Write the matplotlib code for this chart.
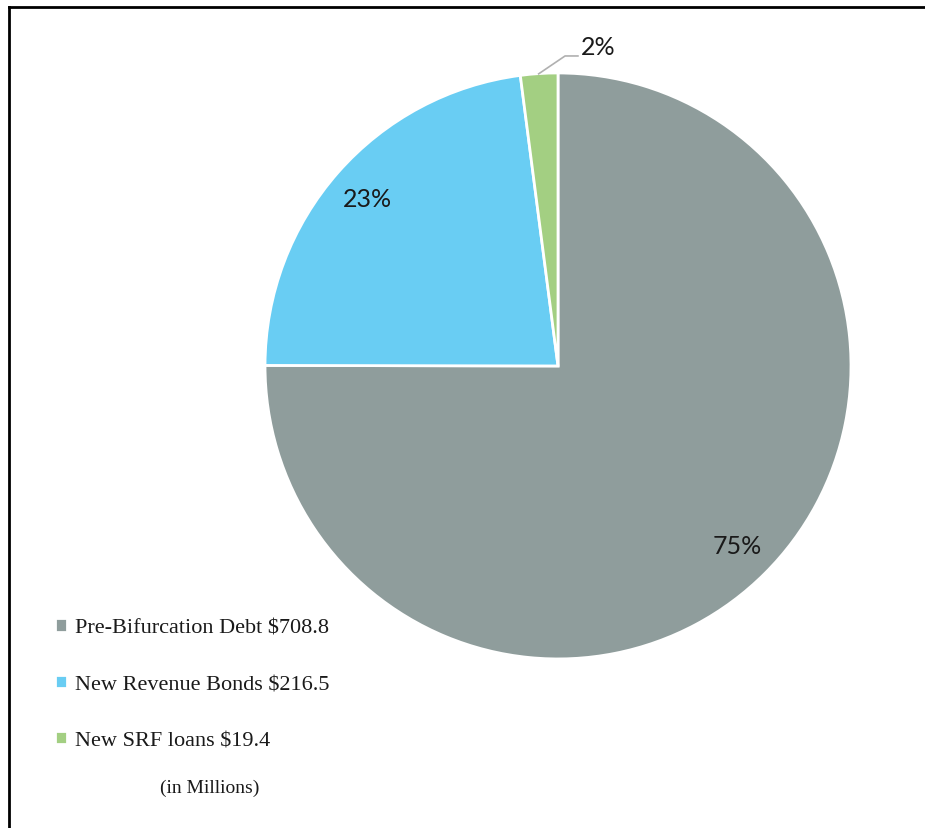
import matplotlib
matplotlib.use('Agg')
import matplotlib.pyplot as plt
from matplotlib.lines import Line2D

labels = ['Pre-Bifurcation Debt $708.8', 'New Revenue Bonds $216.5', 'New SRF loans $19.4']
values = [708.8, 216.5, 19.4]
colors = ['#8F9D9C', '#69CDF3', '#A3CF82']

fig = plt.figure(figsize=(9.25, 8.29), dpi=100)
ax = fig.add_axes([0.2865, 0.2039, 0.6335, 0.7069])

wedges, texts, autotexts = ax.pie(values, colors=colors, startangle=90, counterclock=False,
                                  autopct='%1.0f%%', pctdistance=0.865,
                                  wedgeprops=dict(edgecolor='white', linewidth=2),
                                  textprops=dict(fontsize=18, family='Lato', color='#1a1a1a'))
ax.set_xlim(-1, 1)
ax.set_ylim(-1, 1)
ax.set_aspect('equal')

# small slice label goes outside with a leader line
autotexts[2].set_position((0.137, 1.092))
ax.plot([-0.066, 0.024, 0.068], [0.997, 1.058, 1.058], color='#b0b0b0', lw=1.2, clip_on=False)

leg = fig.legend(wedges, labels, loc='upper left', bbox_to_anchor=(0.038, 0.277),
                 frameon=False, handlelength=0.55, handleheight=0.55, handletextpad=0.35,
                 labelspacing=1.65, prop=dict(family='Liberation Serif', size=16))
for t in leg.get_texts():
    t.set_color('#1a1a1a')
fig.text(0.227, 0.049, '(in Millions)', family='Liberation Serif', fontsize=14,
         ha='center', va='center', color='#1a1a1a')

# frame edges (top and left only visible)
fig.add_artist(Line2D([9 / 925, 1], [1 - 8 / 829, 1 - 8 / 829], color='black', lw=2, transform=fig.transFigure))
fig.add_artist(Line2D([9 / 925, 9 / 925], [0, 1 - 8 / 829], color='black', lw=2, transform=fig.transFigure))

fig.savefig('out.png', dpi=100)
